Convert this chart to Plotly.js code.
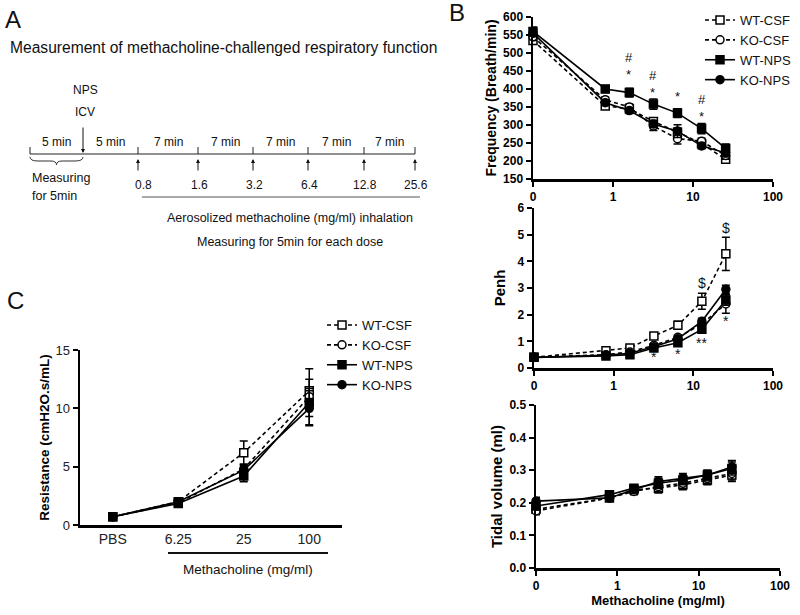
<!DOCTYPE html>
<html>
<head>
<meta charset="utf-8">
<script src="https://cdn.plot.ly/plotly-3.0.1.min.js"></script>
<style>
  html, body { margin: 0; padding: 0; background: #fff; }
  #fig { width: 800px; height: 615px; }
</style>
</head>
<body>
<div id="fig"></div>
<script>
// ---- data ----
const doses = [0, 0.8, 1.6, 3.2, 6.4, 12.8, 25.6];
const groups = ['WT-CSF', 'KO-CSF', 'WT-NPS', 'KO-NPS'];

// Frequency (Breath/min)
const freqWTCSF = [535, 353, 345, 310, 280, 248, 205];
const freqWTCSFErr = [10, 8, 8, 8, 12, 8, 8];
const freqKOCSF = [545, 370, 350, 297, 262, 255, 215];
const freqKOCSFErr = [10, 8, 8, 12, 15, 8, 10];
const freqWTNPS = [560, 400, 390, 358, 333, 290, 235];
const freqWTNPSErr = [12, 10, 12, 14, 12, 14, 12];
const freqKONPS = [555, 362, 340, 303, 283, 242, 222];
const freqKONPSErr = [10, 8, 8, 10, 18, 8, 10];

// Penh
const penhWTCSF = [0.40, 0.65, 0.75, 1.20, 1.60, 2.50, 4.28];
const penhWTCSFErr = [0.05, 0.05, 0.08, 0.10, 0.15, 0.30, 0.62];
const penhKOCSF = [0.40, 0.50, 0.60, 0.85, 1.15, 1.65, 2.40];
const penhKOCSFErr = [0.05, 0.05, 0.05, 0.08, 0.10, 0.15, 0.35];
const penhWTNPS = [0.40, 0.45, 0.50, 0.75, 0.95, 1.45, 2.55];
const penhWTNPSErr = [0.05, 0.05, 0.05, 0.06, 0.08, 0.12, 0.20];
const penhKONPS = [0.40, 0.48, 0.55, 0.80, 1.10, 1.75, 2.95];
const penhKONPSErr = [0.05, 0.05, 0.05, 0.06, 0.08, 0.12, 0.15];

// Tidal volume (ml)
const tvWTCSF = [0.180, 0.215, 0.240, 0.245, 0.255, 0.270, 0.285];
const tvKOCSF = [0.175, 0.215, 0.235, 0.250, 0.260, 0.275, 0.290];
const tvWTNPS = [0.190, 0.225, 0.245, 0.260, 0.270, 0.285, 0.305];
const tvKONPS = [0.205, 0.215, 0.240, 0.265, 0.275, 0.285, 0.310];
const tvErr = [0.012, 0.010, 0.010, 0.015, 0.015, 0.015, 0.020];

// Resistance (cmH2O.s/mL)
const resCats = ['PBS', '6.25', '25', '100'];
const resWTCSF = [0.7, 2.0, 6.2, 11.5];
const resWTCSFErr = [0.1, 0.2, 1.0, 1.0];
const resKOCSF = [0.7, 1.9, 4.8, 11.0];
const resKOCSFErr = [0.1, 0.2, 0.4, 2.4];
const resWTNPS = [0.7, 1.85, 4.2, 10.5];
const resWTNPSErr = [0.1, 0.2, 0.5, 1.2];
const resKONPS = [0.7, 2.0, 4.7, 10.0];
const resKONPSErr = [0.1, 0.2, 0.4, 1.5];

// significance marks
const freqSigX = [1.6, 3.2, 6.4, 12.8];
const freqSigY = [463, 414, 378, 346];
const freqSigText = ['#<br>*', '#<br>*', '*', '#<br>*'];
const penhSigX = [12.8, 25.6, 3.2, 6.4, 12.8, 25.6];
const penhSigY = [3.2, 5.25, 0.42, 0.52, 0.94, 1.75];
const penhSigText = ['$', '$', '*', '*', '**', '*'];

// protocol schematic (panel A)
const stepLabels = ['5 min', '5 min', '7 min', '7 min', '7 min', '7 min', '7 min'];
const doseLabels = ['0.8', '1.6', '3.2', '6.4', '12.8', '25.6'];

// ---- helpers ----
const W = 800, H = 615;
const fx = x => x / W;
const fy = y => 1 - y / H;
const FONT = 'Liberation Sans, Arial, sans-serif';
// the "0" dose sits at the 0.1 slot of the log axis
const doseX = doses.map(d => (d === 0 ? 0.1 : d));

const styles = {
  'WT-CSF': { symbol: 'square', fill: 'white', dash: '4px,3px' },
  'KO-CSF': { symbol: 'circle', fill: 'white', dash: '4px,3px' },
  'WT-NPS': { symbol: 'square', fill: 'black', dash: 'solid' },
  'KO-NPS': { symbol: 'circle', fill: 'black', dash: 'solid' }
};

function series(name, x, y, err, xa, ya, legend) {
  const s = styles[name];
  return {
    x: x, y: y, type: 'scatter', mode: 'lines+markers', name: name,
    xaxis: xa, yaxis: ya, cliponaxis: false,
    showlegend: !!legend, legend: legend || 'legend',
    line: { color: 'black', width: 1.6, dash: s.dash },
    marker: { symbol: s.symbol, size: 8, color: s.fill, line: { color: 'black', width: 1.5 } },
    error_y: { type: 'data', array: err, color: 'black', thickness: 1.5, width: 4 }
  };
}

const data = [
  series('WT-CSF', doseX, freqWTCSF, freqWTCSFErr, 'x', 'y', 'legend'),
  series('KO-CSF', doseX, freqKOCSF, freqKOCSFErr, 'x', 'y', 'legend'),
  series('WT-NPS', doseX, freqWTNPS, freqWTNPSErr, 'x', 'y', 'legend'),
  series('KO-NPS', doseX, freqKONPS, freqKONPSErr, 'x', 'y', 'legend'),

  series('WT-CSF', doseX, penhWTCSF, penhWTCSFErr, 'x2', 'y2'),
  series('KO-CSF', doseX, penhKOCSF, penhKOCSFErr, 'x2', 'y2'),
  series('WT-NPS', doseX, penhWTNPS, penhWTNPSErr, 'x2', 'y2'),
  series('KO-NPS', doseX, penhKONPS, penhKONPSErr, 'x2', 'y2'),

  series('WT-CSF', doseX, tvWTCSF, tvErr, 'x3', 'y3'),
  series('KO-CSF', doseX, tvKOCSF, tvErr, 'x3', 'y3'),
  series('WT-NPS', doseX, tvWTNPS, tvErr, 'x3', 'y3'),
  series('KO-NPS', doseX, tvKONPS, tvErr, 'x3', 'y3'),

  series('WT-CSF', resCats, resWTCSF, resWTCSFErr, 'x4', 'y4', 'legend2'),
  series('KO-CSF', resCats, resKOCSF, resKOCSFErr, 'x4', 'y4', 'legend2'),
  series('WT-NPS', resCats, resWTNPS, resWTNPSErr, 'x4', 'y4', 'legend2'),
  series('KO-NPS', resCats, resKONPS, resKONPSErr, 'x4', 'y4', 'legend2')
];

const boldTick = { family: FONT, size: 12, color: 'black', weight: 'bold' };
const axisBase = {
  showline: true, linecolor: 'black', linewidth: 2.5,
  ticks: 'outside', ticklen: 5, tickwidth: 2, tickcolor: 'black',
  showgrid: false, zeroline: false, tickfont: boldTick
};
const logX = Object.assign({}, axisBase, {
  type: 'log', range: [-1, 2],
  tickvals: [0.1, 1, 10, 100], ticktext: ['0', '1', '10', '100']
});
const titleFont = (size) => ({ family: FONT, size: size, color: 'black', weight: 'bold' });

// ---- panel A schematic ----
const tickPx = [30, 83, 138, 198, 253, 308, 364, 415];
const shapes = [];
const annotations = [];

function txt(x, y, text, size, opts) {
  annotations.push(Object.assign({
    xref: 'paper', yref: 'paper', x: fx(x), y: fy(y), text: text, showarrow: false,
    xanchor: 'center', yanchor: 'middle', font: { family: FONT, size: size, color: '#111' }
  }, opts || {}));
}
function line(x0, y0, x1, y1, w, c) {
  shapes.push({ type: 'line', xref: 'paper', yref: 'paper', x0: fx(x0), y0: fy(y0), x1: fx(x1), y1: fy(y1),
    line: { color: c || '#222', width: w || 1 } });
}
function arrow(x, yHead, yTail) {
  annotations.push({ xref: 'paper', yref: 'paper', x: fx(x), y: fy(yHead), ax: 0, ay: yTail - yHead,
    text: '', showarrow: true, arrowhead: 2, arrowsize: 0.8, arrowwidth: 1, arrowcolor: '#111' });
}

txt(3, 20, 'A', 24, { xanchor: 'left' });
txt(8, 48, 'Measurement of methacholine-challenged respiratory function', 15.6, { xanchor: 'left' });
txt(85, 90, 'NPS', 12);
txt(85, 112, 'ICV', 12);
arrow(83, 153, 126);

line(tickPx[0], 154, tickPx[tickPx.length - 1], 154, 1);
tickPx.forEach((x, i) => { if (i !== 1) line(x, 147, x, 154, 1); });
stepLabels.forEach((s, i) => txt((tickPx[i] + tickPx[i + 1]) / 2, 142, s, 12));
doseLabels.forEach((d, i) => {
  arrow(tickPx[i + 2], 159, 172);
  txt(tickPx[i + 2] + (i === 0 ? 5 : 1), 185, d, 12);
});

// curly brace under the first 5 min
const p = (x, y) => fx(x).toFixed(5) + ',' + fy(y).toFixed(5);
shapes.push({
  type: 'path', xref: 'paper', yref: 'paper', line: { color: '#333', width: 1 },
  path: 'M' + p(30, 157) + ' Q' + p(30, 161) + ' ' + p(38, 161) + ' L' + p(51, 161) +
        ' Q' + p(56.5, 161) + ' ' + p(56.5, 165) + ' Q' + p(56.5, 161) + ' ' + p(62, 161) +
        ' L' + p(75, 161) + ' Q' + p(83, 161) + ' ' + p(83, 157)
});
txt(30, 178, 'Measuring', 12.5, { xanchor: 'left' });
txt(30, 196, 'for 5min', 12.5, { xanchor: 'left' });
line(142, 197, 420, 197, 1, '#555');
txt(290, 218, 'Aerosolized methacholine (mg/ml) inhalation', 12.5);
txt(290, 242, 'Measuring for 5min for each dose', 12.5);

// panel letters
txt(447, 13, 'B', 24, { xanchor: 'left' });
txt(5, 300, 'C', 24, { xanchor: 'left' });

// panel C: underline + axis caption for the methacholine doses
line(168, 553, 328, 553, 2, '#111');
txt(248, 569, 'Methacholine (mg/ml)', 13.5);

// significance marks in panel B
freqSigX.forEach((x, i) => annotations.push({
  xref: 'x', yref: 'y', x: Math.log10(x), y: freqSigY[i], text: freqSigText[i], showarrow: false,
  font: { family: FONT, size: 13, color: '#111' }
}));
penhSigX.forEach((x, i) => annotations.push({
  xref: 'x2', yref: 'y2', x: Math.log10(x), y: penhSigY[i], text: penhSigText[i], showarrow: false,
  font: { family: FONT, size: 14, color: '#111' }
}));

const legendBase = {
  xanchor: 'left', yanchor: 'top', bgcolor: 'rgba(0,0,0,0)',
  font: { family: FONT, size: 13, color: '#111' }, itemwidth: 30, tracegroupgap: 0
};

const layout = {
  width: W, height: H,
  margin: { l: 0, r: 0, t: 0, b: 0 },
  paper_bgcolor: 'white', plot_bgcolor: 'white',
  font: { family: FONT, color: 'black' },

  xaxis: Object.assign({}, logX, { domain: [fx(533), fx(773)], anchor: 'y' }),
  yaxis: Object.assign({}, axisBase, {
    domain: [fy(179), fy(17)], anchor: 'x', range: [150, 600], dtick: 50,
    title: { text: 'Frequency (Breath/min)', font: titleFont(14), standoff: 3 }
  }),
  xaxis2: Object.assign({}, logX, { domain: [fx(534), fx(773)], anchor: 'y2' }),
  yaxis2: Object.assign({}, axisBase, {
    domain: [fy(368), fy(208)], anchor: 'x2', range: [0, 6], dtick: 1,
    title: { text: 'Penh', font: titleFont(15), standoff: 8 }
  }),
  xaxis3: Object.assign({}, logX, {
    domain: [fx(536), fx(780)], anchor: 'y3',
    title: { text: 'Methacholine (mg/ml)', font: titleFont(13), standoff: 4 }
  }),
  yaxis3: Object.assign({}, axisBase, {
    domain: [fy(568), fy(405)], anchor: 'x3', range: [0, 0.5], dtick: 0.1, tickformat: '.1f',
    title: { text: 'Tidal volume (ml)', font: titleFont(15), standoff: 3 }
  }),
  xaxis4: Object.assign({}, axisBase, {
    domain: [fx(80), fx(342)], anchor: 'y4', type: 'category', range: [-0.5, 3.5],
    ticks: '', tickfont: { family: FONT, size: 14, color: '#222' }
  }),
  yaxis4: Object.assign({}, axisBase, {
    domain: [fy(525), fy(350)], anchor: 'x4', range: [0, 15], dtick: 5,
    tickfont: { family: FONT, size: 13, color: '#222' },
    title: { text: 'Resistance (cmH2O.s/mL)', font: titleFont(13.5), standoff: 3 }
  }),

  legend: Object.assign({}, legendBase, { x: fx(700), y: fy(5) }),
  legend2: Object.assign({}, legendBase, { x: fx(322), y: fy(310) }),

  shapes: shapes,
  annotations: annotations
};

Plotly.newPlot('fig', data, layout, { staticPlot: true });
</script>
</body>
</html>
